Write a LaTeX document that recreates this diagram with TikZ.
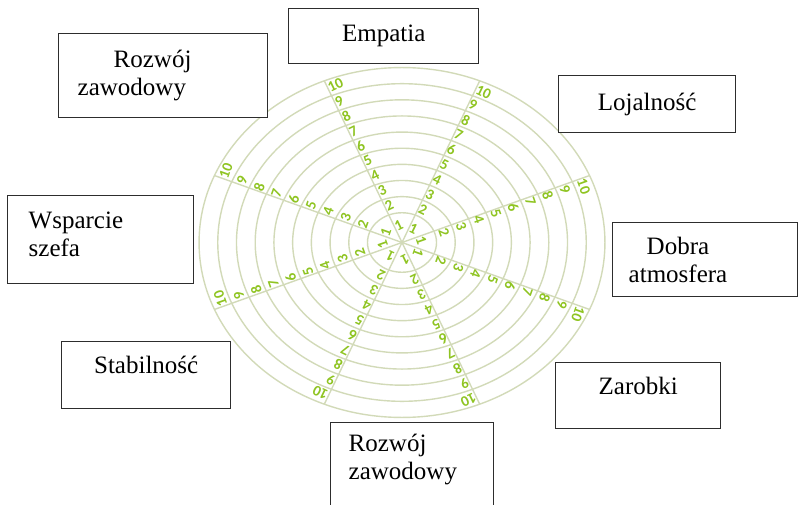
\documentclass[tikz,border=0pt]{standalone}
\usepackage{fontspec}
\setmainfont{Liberation Serif}
\newfontfamily\numfont{Carlito}
\usetikzlibrary{positioning,calc}
\definecolor{ringgray}{RGB}{210,218,184}
\definecolor{wheelgreen}{RGB}{143,196,34}
\definecolor{boxline}{RGB}{45,45,45}

\begin{document}
\begin{tikzpicture}[x=1pt,y=-1pt,
    label box/.style={draw=boxline,line width=1.4pt,fill=white,anchor=north west,
      font=\fontsize{25}{28}\selectfont,align=left},
    ring/.style={draw=ringgray,line width=1.4pt},
    score/.style={text=wheelgreen,font=\numfont\bfseries\fontsize{15}{15}\selectfont,
      anchor=west,inner sep=0.5pt}]
    \useasboundingbox (0,0) rectangle (798,505);
    \clip (0,0) rectangle (798,505);
    % wheel
    \def\wa{203}\def\wb{175}
    \coordinate (hub) at (402,242.5);
    \begin{scope}[shift={(hub)}]
      \foreach \k in {1,...,10} {
        \pgfmathsetmacro\r{0.17+(\k-1)*0.0922}
        \draw[ring] (0,0) ellipse [x radius={\r*\wa*1pt}, y radius={\r*\wb*1pt}];
      }
      \foreach \t [count=\s] in {22.5,67.5,...,337.5} {
        \draw[ring] (0,0) -- ({\wa*cos(\t)},{-\wb*sin(\t)});
        \pgfmathsetmacro\rot{atan2(\wb*sin(\t),\wa*cos(\t))-90}
        \foreach \k in {1,...,10} {
          \pgfmathsetmacro\f{\k==1 ? 0.095 : 0.17+(\k-1.5)*0.0922}
          \node[score,rotate=\rot] (s\s-\k) at ({\f*\wa*cos(\t)},{-\f*\wb*sin(\t)}) {\k};
        }
      }
    \end{scope}
    % boxes
    \node[label box,minimum width=190pt,minimum height=55pt,align=center] (empatia) at (288,8) {Empatia};
    \node[label box,minimum width=209pt,minimum height=84pt,inner xsep=19pt,text width=171pt] (rozwoj top) at (58,33) {\hspace*{36pt}Rozwój\\zawodowy};
    \node[label box,minimum width=177pt,minimum height=57pt,align=center] (lojalnosc) at (558,75) {Lojalność};
    \node[label box,minimum width=185pt,minimum height=74pt,inner xsep=16pt,text width=153pt] (atmosfera) at (612,222) {\hspace*{18pt}Dobra\\atmosfera};
    \node[label box,minimum width=186pt,minimum height=88pt,inner xsep=21pt,text width=144pt,text depth=39pt] (wsparcie) at (7,195) {Wsparcie\\szefa};
    \node[label box,minimum width=169pt,minimum height=67pt,align=center,text height=17pt,text depth=20pt] (stabilnosc) at (61,341) {Stabilność};
    \node[label box,minimum width=165pt,minimum height=66pt,align=center,text height=17pt,text depth=20pt] (zarobki) at (555,362) {Zarobki};
    \node[label box,minimum width=163pt,minimum height=100pt,inner xsep=18pt,text width=127pt,text depth=59pt] (rozwoj bottom) at (330,422) {Rozwój\\zawodowy};
\end{tikzpicture}
\end{document}
